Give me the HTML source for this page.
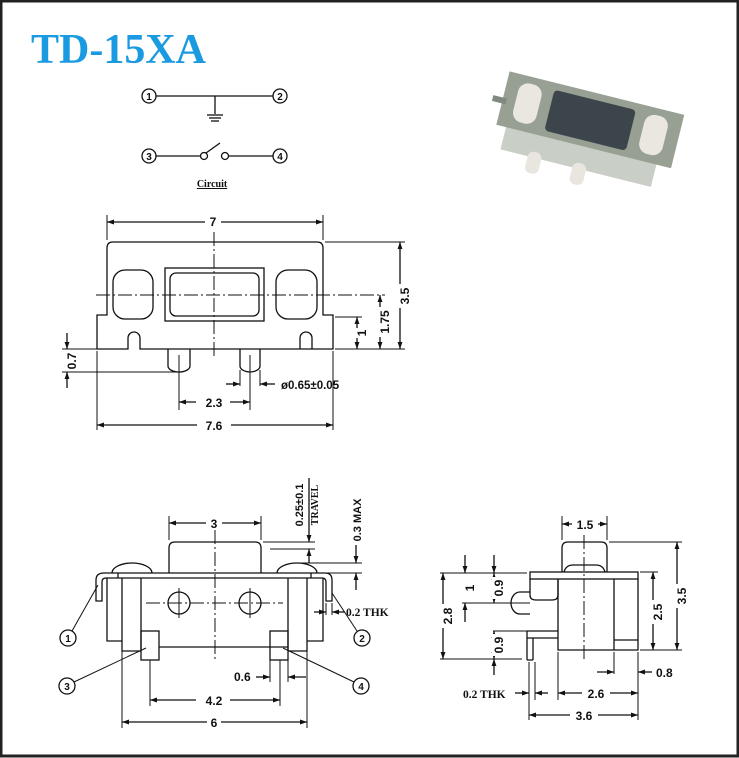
<!DOCTYPE html>
<html><head><meta charset="utf-8"><style>
html,body{margin:0;padding:0;background:#fff}
svg{display:block}
text{font-family:"Liberation Sans",Arial,sans-serif;font-weight:bold;fill:#111}
</style></head><body>
<svg width="739" height="758" viewBox="0 0 739 758" xmlns="http://www.w3.org/2000/svg">
<defs>
<marker id="a" viewBox="0 0 10 10" refX="10" refY="5" markerWidth="7" markerHeight="7" orient="auto-start-reverse" markerUnits="userSpaceOnUse"><path d="M0,1.5L10,5L0,8.5z" fill="#111"/></marker>
</defs>
<rect x="1" y="1" width="737" height="755" fill="#fff" stroke="#222" stroke-width="3"/>
<text x="31" y="63" font-size="42" style="font-family:'Liberation Serif',serif;fill:#1a9ae0">TD-15XA</text>

<g stroke="#111" stroke-width="1.3" fill="none">
<circle cx="149" cy="96" r="7"/><circle cx="280" cy="96" r="7"/>
<line x1="156" y1="96" x2="273" y2="96"/><line x1="215" y1="96" x2="215" y2="114"/>
<line x1="207" y1="115" x2="223" y2="115"/><line x1="209" y1="118" x2="221" y2="118"/><line x1="211" y1="121" x2="219" y2="121"/>
<circle cx="149" cy="156" r="7"/><circle cx="280" cy="156" r="7"/>
<line x1="156" y1="156" x2="200" y2="156"/><circle cx="204" cy="156" r="3.5"/><circle cx="225" cy="156" r="3.5"/>
<line x1="229" y1="156" x2="273" y2="156"/><line x1="206" y1="153" x2="220" y2="143"/>
</g>
<text x="149" y="100" font-size="10" text-anchor="middle">1</text>
<text x="280" y="100" font-size="10" text-anchor="middle">2</text>
<text x="149" y="160" font-size="10" text-anchor="middle">3</text>
<text x="280" y="160" font-size="10" text-anchor="middle">4</text>
<text x="212" y="187" font-size="10" text-anchor="middle" style="font-family:'Liberation Serif',serif;text-decoration:underline">Circuit</text>

<!-- photo -->
<g transform="translate(8,4) rotate(14 580 125)">
<rect x="500" y="138" width="155" height="28" fill="#c9cec6"/>
<rect x="528" y="160" width="14" height="22" rx="6" fill="#e8e6df"/>
<rect x="574" y="160" width="14" height="22" rx="6" fill="#e8e6df"/>
<rect x="490" y="88" width="180" height="55" fill="#97a092"/>
<rect x="480" y="115" width="14" height="6" fill="#7f8a80"/>
<rect x="503" y="95" width="24" height="40" rx="10" fill="#e9e7e0"/>
<rect x="633" y="95" width="24" height="40" rx="10" fill="#e9e7e0"/>
<rect x="538" y="95" width="84" height="42" rx="4" fill="#3c444c"/>
</g>

<g stroke="#111" stroke-width="1.3" fill="none">
<path d="M107,315 V248 Q107,242 113,242 H317 Q323,242 323,248 V315 H333 V349 H140 V338 A6,6 0 0 0 128,338 V349 H97 V315 Z" />
<path d="M300,349 V338 A6,6 0 0 1 312,338 V349"/>
<rect x="165" y="268" width="99" height="53"/>
<rect x="170" y="273" width="89" height="43" rx="6"/>
<rect x="113" y="270" width="40" height="49" rx="12"/>
<rect x="276" y="270" width="41" height="49" rx="12"/>
<path d="M168,349 V366 A11,6 0 0 0 190,366 V349 M240,349 V366 A10,6 0 0 0 260,366 V349"/>
<line x1="179" y1="355" x2="179" y2="410" stroke-width="1"/>
<line x1="250" y1="355" x2="250" y2="410" stroke-width="1"/>
<line x1="240" y1="370" x2="240" y2="386" stroke-width="1"/><line x1="260" y1="370" x2="260" y2="386" stroke-width="1"/>
<line x1="226" y1="384" x2="240" y2="384" marker-end="url(#a)"/>
<line x1="275" y1="384" x2="260" y2="384" marker-end="url(#a)"/>
<line x1="96" y1="295" x2="385" y2="295" stroke-dasharray="14,3,2,3" stroke-width="1"/>
<line x1="214" y1="232" x2="214" y2="356" stroke-dasharray="14,3,2,3" stroke-width="1"/>
<line x1="107" y1="215" x2="107" y2="240" stroke-width="1"/><line x1="323" y1="215" x2="323" y2="240" stroke-width="1"/>
<line x1="107" y1="222" x2="323" y2="222" marker-start="url(#a)" marker-end="url(#a)"/>
<line x1="325" y1="242" x2="405" y2="242" stroke-width="1"/><line x1="335" y1="349" x2="405" y2="349" stroke-width="1"/>
<line x1="335" y1="317" x2="362" y2="317" stroke-width="1"/>
<line x1="400" y1="242" x2="400" y2="349" marker-start="url(#a)" marker-end="url(#a)"/>
<line x1="380" y1="295" x2="380" y2="349" marker-start="url(#a)" marker-end="url(#a)"/>
<line x1="357" y1="317" x2="357" y2="349" marker-start="url(#a)" marker-end="url(#a)"/>
<line x1="62" y1="349" x2="97" y2="349" stroke-width="1"/><line x1="62" y1="372" x2="178" y2="372" stroke-width="1"/>
<line x1="67" y1="333" x2="67" y2="349" marker-end="url(#a)"/>
<line x1="67" y1="388" x2="67" y2="372" marker-end="url(#a)"/>
<line x1="179" y1="402" x2="250" y2="402" marker-start="url(#a)" marker-end="url(#a)"/>
<line x1="97" y1="351" x2="97" y2="430" stroke-width="1"/><line x1="333" y1="351" x2="333" y2="430" stroke-width="1"/>
<line x1="97" y1="425" x2="333" y2="425" marker-start="url(#a)" marker-end="url(#a)"/>
</g>
<g font-size="12">
<rect x="205" y="215" width="16" height="12" fill="#fff"/><text x="213" y="226" text-anchor="middle">7</text>
<rect x="196" y="396" width="34" height="12" fill="#fff"/><text x="214" y="407" text-anchor="middle">2.3</text>
<rect x="197" y="419" width="34" height="12" fill="#fff"/><text x="214" y="430" text-anchor="middle">7.6</text>
<text x="281" y="389" font-size="11.5">ø0.65±0.05</text>
<g transform="translate(405,296) rotate(-90)"><rect x="-12" y="-7" width="24" height="13" fill="#fff"/><text x="0" y="4" text-anchor="middle">3.5</text></g>
<g transform="translate(385,322) rotate(-90)"><rect x="-15" y="-7" width="30" height="13" fill="#fff"/><text x="0" y="4" text-anchor="middle">1.75</text></g>
<g transform="translate(362,333) rotate(-90)"><rect x="-5" y="-7" width="10" height="13" fill="#fff"/><text x="0" y="4" text-anchor="middle">1</text></g>
<g transform="translate(72,361) rotate(-90)"><rect x="-10" y="-7" width="20" height="13" fill="#fff"/><text x="0" y="4" text-anchor="middle">0.7</text></g>
</g>

<g stroke="#111" stroke-width="1.3" fill="none">
<path d="M169,573 V548 Q169,542 175,542 H255 Q261,542 261,548 V573"/>
<path d="M112,573 A20,10 0 0 1 152,573 M277,573 A20,10 0 0 1 317,573"/>
<path d="M96,601 V580 Q96,573 104,573 H325 Q332,573 332,580 V601 H326 V582 Q326,578 322,578 H106 Q102,578 102,582 V601 Z"/>
<path d="M107,578 V641 H122 V651 H141 M122,578 V651 M141,578 V651 M323,578 V641 H307 V651 H288 M307,578 V651 M288,578 V651"/>
<path d="M159,647 H288"/>
<rect x="141" y="631" width="18" height="29"/><rect x="270" y="631" width="18" height="29"/>
<line x1="118" y1="573" x2="118" y2="578"/><line x1="311" y1="573" x2="311" y2="578"/>
<circle cx="179" cy="603" r="11"/><circle cx="250" cy="603" r="11"/>
<line x1="146" y1="603" x2="283" y2="603" stroke-dasharray="14,3,2,3" stroke-width="1"/>
<line x1="179" y1="588" x2="179" y2="618" stroke-width="1"/><line x1="250" y1="588" x2="250" y2="618" stroke-width="1"/>
<line x1="215" y1="530" x2="215" y2="662" stroke-dasharray="14,3,2,3" stroke-width="1"/>
<line x1="169" y1="516" x2="169" y2="540" stroke-width="1"/><line x1="261" y1="516" x2="261" y2="540" stroke-width="1"/>
<line x1="169" y1="523" x2="261" y2="523" marker-start="url(#a)" marker-end="url(#a)"/>
<line x1="263" y1="542" x2="315" y2="542" stroke-width="1"/>
<line x1="270" y1="549" x2="315" y2="549" stroke-width="1"/>
<line x1="300" y1="563" x2="362" y2="563" stroke-width="1"/>
<line x1="300" y1="573" x2="362" y2="573" stroke-width="1"/>
<line x1="309" y1="478" x2="309" y2="542" marker-end="url(#a)"/>
<line x1="309" y1="563" x2="309" y2="549" marker-end="url(#a)"/>
<line x1="356" y1="545" x2="356" y2="563" marker-end="url(#a)"/>
<line x1="356" y1="590" x2="356" y2="573" marker-end="url(#a)"/>
<line x1="326" y1="603" x2="326" y2="615" stroke-width="1"/><line x1="332" y1="603" x2="332" y2="615" stroke-width="1"/>
<line x1="314" y1="612" x2="326" y2="612" marker-end="url(#a)"/>
<line x1="345" y1="612" x2="332" y2="612" marker-end="url(#a)"/>
<line x1="122" y1="651" x2="122" y2="728" stroke-width="1"/><line x1="307" y1="651" x2="307" y2="728" stroke-width="1"/>
<line x1="150" y1="660" x2="150" y2="706" stroke-width="1"/><line x1="280" y1="660" x2="280" y2="706" stroke-width="1"/>
<line x1="270" y1="660" x2="270" y2="682" stroke-width="1"/><line x1="288" y1="660" x2="288" y2="682" stroke-width="1"/>
<line x1="256" y1="677" x2="270" y2="677" marker-end="url(#a)"/>
<line x1="306" y1="677" x2="288" y2="677" marker-end="url(#a)"/>
<line x1="150" y1="700" x2="280" y2="700" marker-start="url(#a)" marker-end="url(#a)"/>
<line x1="122" y1="722" x2="307" y2="722" marker-start="url(#a)" marker-end="url(#a)"/>
<circle cx="68" cy="638" r="8"/><circle cx="362" cy="638" r="8"/><circle cx="67" cy="686" r="8"/><circle cx="361" cy="686" r="8"/>
<line x1="72" y1="631" x2="98" y2="585" stroke-width="1"/>
<line x1="357" y1="631" x2="332" y2="593" stroke-width="1"/>
<line x1="74" y1="682" x2="146" y2="648" stroke-width="1"/>
<line x1="354" y1="682" x2="283" y2="648" stroke-width="1"/>
</g>
<g font-size="12">
<rect x="206" y="517" width="16" height="12" fill="#fff"/><text x="214" y="528" text-anchor="middle">3</text>
<rect x="196" y="694" width="34" height="12" fill="#fff"/><text x="214" y="705" text-anchor="middle">4.2</text>
<rect x="207" y="716" width="14" height="12" fill="#fff"/><text x="214" y="727" text-anchor="middle">6</text>
<text x="234" y="681">0.6</text>
<text x="346" y="616" style="font-family:'Liberation Serif',serif" font-size="11.5">0.2 THK</text>
<g font-size="10" text-anchor="middle"><text x="68" y="642">1</text><text x="362" y="642">2</text><text x="67" y="690">3</text><text x="361" y="690">4</text></g>
<g transform="translate(303,505) rotate(-90)"><text x="0" y="0" text-anchor="middle" font-size="11">0.25±0.1</text></g>
<g transform="translate(318,505) rotate(-90)"><text x="0" y="0" text-anchor="middle" font-size="10" style="font-family:'Liberation Serif',serif">TRAVEL</text></g>
<g transform="translate(361,520) rotate(-90)"><text x="0" y="0" text-anchor="middle" font-size="11">0.3  MAX</text></g>
</g>

<g stroke="#111" stroke-width="1.3" fill="none">
<path d="M562,572 V548 Q562,542 568,542 H601 Q607,542 607,548 V572"/>
<path d="M564,572 Q566,565 573,565 H596 Q603,565 605,572"/>
<rect x="530" y="572" width="108" height="7"/>
<path d="M558,579 V650 H638 V579 M614,579 V650 M614,640 H638"/>
<path d="M530,579 V595 Q530,600 536,600 H552 Q558,600 558,595 V579"/>
<path d="M530,592 H520 A9,11 0 0 0 520,614 H530"/>
<path d="M527,631 H558 M527,638 H558 M527,631 V660 M533,638 V660 M527,660 H533"/>
<line x1="584" y1="535" x2="584" y2="660" stroke-dasharray="14,3,2,3" stroke-width="1"/>
<line x1="562" y1="516" x2="562" y2="540" stroke-width="1"/><line x1="607" y1="516" x2="607" y2="540" stroke-width="1"/>
<line x1="562" y1="524" x2="607" y2="524" marker-start="url(#a)" marker-end="url(#a)"/>
<line x1="609" y1="542" x2="682" y2="542" stroke-width="1"/>
<line x1="640" y1="572" x2="658" y2="572" stroke-width="1"/>
<line x1="640" y1="650" x2="682" y2="650" stroke-width="1"/>
<line x1="677" y1="542" x2="677" y2="650" marker-start="url(#a)" marker-end="url(#a)"/>
<line x1="653" y1="572" x2="653" y2="650" marker-start="url(#a)" marker-end="url(#a)"/>
<line x1="440" y1="573" x2="527" y2="573" stroke-width="1"/>
<line x1="462" y1="603" x2="530" y2="603" stroke-width="1"/>
<line x1="493" y1="631" x2="527" y2="631" stroke-width="1"/>
<line x1="440" y1="659" x2="522" y2="659" stroke-width="1"/>
<line x1="443" y1="573" x2="443" y2="659" marker-start="url(#a)" marker-end="url(#a)"/>
<line x1="465" y1="555" x2="465" y2="573" marker-end="url(#a)"/>
<line x1="465" y1="622" x2="465" y2="603" marker-end="url(#a)"/>
<line x1="494" y1="555" x2="494" y2="573" marker-end="url(#a)"/>
<line x1="494" y1="573" x2="494" y2="603" marker-start="url(#a)" marker-end="url(#a)"/>
<line x1="494" y1="631" x2="494" y2="659" marker-start="url(#a)" marker-end="url(#a)"/>
<line x1="494" y1="675" x2="494" y2="659" marker-end="url(#a)"/>
<line x1="529" y1="662" x2="529" y2="720" stroke-width="1"/><line x1="535" y1="662" x2="535" y2="700" stroke-width="1"/>
<line x1="558" y1="652" x2="558" y2="700" stroke-width="1"/><line x1="638" y1="652" x2="638" y2="720" stroke-width="1"/>
<line x1="614" y1="652" x2="614" y2="674" stroke-width="1"/>
<line x1="597" y1="672" x2="614" y2="672" marker-end="url(#a)"/>
<line x1="652" y1="672" x2="638" y2="672" marker-end="url(#a)"/>
<line x1="515" y1="693" x2="529" y2="693" marker-end="url(#a)"/>
<line x1="548" y1="693" x2="535" y2="693" marker-end="url(#a)"/>
<line x1="558" y1="693" x2="638" y2="693" marker-start="url(#a)" marker-end="url(#a)"/>
<line x1="529" y1="715" x2="638" y2="715" marker-start="url(#a)" marker-end="url(#a)"/>
</g>
<g font-size="12">
<rect x="572" y="518" width="26" height="12" fill="#fff"/><text x="585" y="529" text-anchor="middle">1.5</text>
<rect x="582" y="687" width="28" height="12" fill="#fff"/><text x="596" y="698" text-anchor="middle">2.6</text>
<rect x="570" y="709" width="28" height="12" fill="#fff"/><text x="584" y="720" text-anchor="middle">3.6</text>
<text x="656" y="677">0.8</text>
<text x="463" y="698" style="font-family:'Liberation Serif',serif" font-size="11.5">0.2 THK</text>
<g transform="translate(682,596) rotate(-90)"><rect x="-12" y="-7" width="24" height="13" fill="#fff"/><text x="0" y="4" text-anchor="middle">3.5</text></g>
<g transform="translate(658,612) rotate(-90)"><rect x="-12" y="-7" width="24" height="13" fill="#fff"/><text x="0" y="4" text-anchor="middle">2.5</text></g>
<g transform="translate(448,616) rotate(-90)"><rect x="-12" y="-7" width="24" height="13" fill="#fff"/><text x="0" y="4" text-anchor="middle">2.8</text></g>
<g transform="translate(470,588) rotate(-90)"><text x="0" y="4" text-anchor="middle">1</text></g>
<g transform="translate(499,588) rotate(-90)"><rect x="-11" y="-7" width="22" height="13" fill="#fff"/><text x="0" y="4" text-anchor="middle">0.9</text></g>
<g transform="translate(499,645) rotate(-90)"><rect x="-11" y="-7" width="22" height="13" fill="#fff"/><text x="0" y="4" text-anchor="middle">0.9</text></g>
</g>
</svg>
</body></html>
